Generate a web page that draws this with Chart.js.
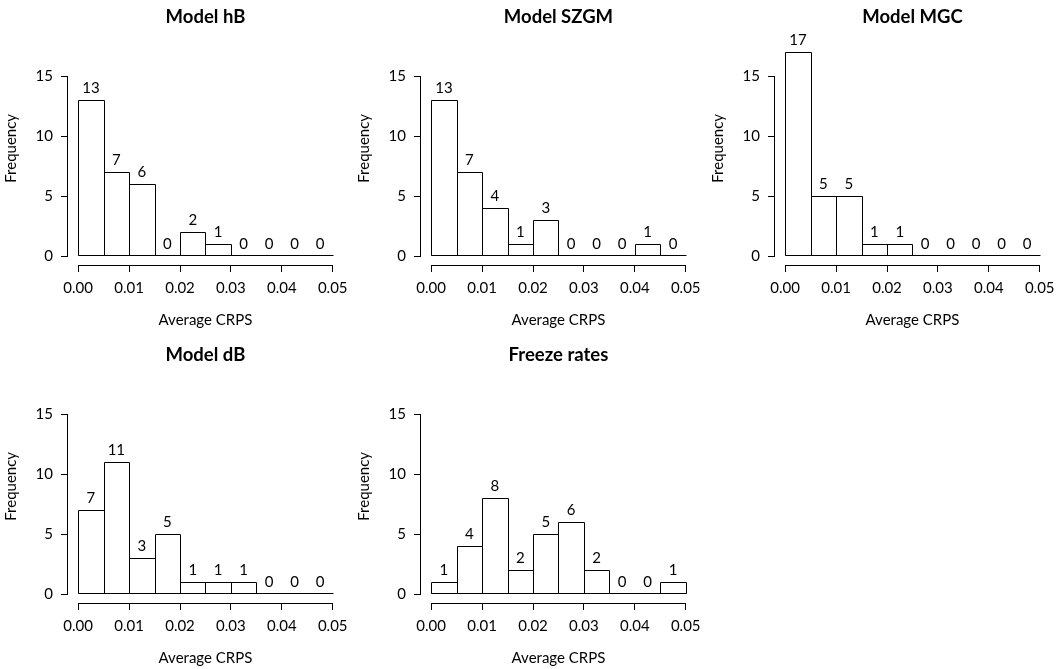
<!DOCTYPE html>
<html>
<head>
<meta charset="utf-8">
<script src="https://cdn.jsdelivr.net/npm/chart.js@4.4.1/dist/chart.umd.min.js"></script>
<style>
  html, body { margin: 0; padding: 0; background: #fff; }
  #wrap { position: relative; width: 1064px; height: 669px; overflow: hidden; }
  canvas { position: absolute; }
</style>
</head>
<body>
<div id="wrap">
  <canvas id="hB" width="355" height="334" style="left:0;top:0"></canvas>
  <canvas id="szgm" width="355" height="334" style="left:353px;top:0"></canvas>
  <canvas id="mgc" width="355" height="334" style="left:707px;top:0"></canvas>
  <canvas id="dB" width="355" height="334" style="left:0;top:338px"></canvas>
  <canvas id="freeze" width="355" height="334" style="left:353px;top:338px"></canvas>
</div>
<script>
// bin mid points (bins are 0.005 wide, 0 to 0.05)
const binMids = [0.0025, 0.0075, 0.0125, 0.0175, 0.0225, 0.0275, 0.0325, 0.0375, 0.0425, 0.0475];
const xTicks = [0, 0.01, 0.02, 0.03, 0.04, 0.05];
const yTicks = [0, 5, 10, 15];

const hBCounts     = [13, 7, 6, 0, 2, 1, 0, 0, 0, 0];
const szgmCounts   = [13, 7, 4, 1, 3, 0, 0, 0, 1, 0];
const mgcCounts    = [17, 5, 5, 1, 1, 0, 0, 0, 0, 0];
const dBCounts     = [7, 11, 3, 5, 1, 1, 1, 0, 0, 0];
const freezeCounts = [1, 4, 8, 2, 5, 6, 2, 0, 0, 1];

Chart.defaults.font.family = 'Lato';
Chart.defaults.font.size = 15;
Chart.defaults.color = '#000';

// R-style outlines (snapped to whole pixels), axis lines and count labels
const rStyle = {
  id: 'rStyle',
  afterDatasetsDraw(chart) {
    const { ctx, chartArea, scales: { x, y } } = chart;
    const pts = chart.data.datasets[0].data;
    const al = p => Math.round(p - 0.5) + 0.5;
    ctx.save();
    ctx.strokeStyle = '#000';
    ctx.lineWidth = 1;
    ctx.beginPath();
    // bars
    chart.getDatasetMeta(0).data.forEach((el, i) => {
      if (!pts[i].y) return;
      const l = Math.round(el.x - el.width / 2), r = Math.round(el.x + el.width / 2);
      const t = Math.round(el.y), b = Math.round(el.base);
      ctx.rect(l + 0.5, t + 0.5, r - l, b - t - 1);
    });
    // baseline under empty bins
    const by = Math.round(y.getPixelForValue(0)) - 0.5;
    ctx.moveTo(Math.round(x.getPixelForValue(xTicks[0])) + 0.5, by);
    ctx.lineTo(Math.round(x.getPixelForValue(xTicks[xTicks.length - 1])) + 0.5, by);
    // y axis
    const ax = Math.round(chartArea.left) - 0.5;
    ctx.moveTo(ax, al(y.getPixelForValue(yTicks[0])) + 0.5);
    ctx.lineTo(ax, al(y.getPixelForValue(yTicks[yTicks.length - 1])) - 0.5);
    // x axis
    const ay = Math.round(chartArea.bottom) + 0.5;
    ctx.moveTo(al(x.getPixelForValue(xTicks[0])) - 0.5, ay);
    ctx.lineTo(al(x.getPixelForValue(xTicks[xTicks.length - 1])) + 0.5, ay);
    ctx.stroke();

    ctx.fillStyle = '#000';
    ctx.font = '15px Lato';
    ctx.textAlign = 'center';
    ctx.textBaseline = 'alphabetic';
    chart.getDatasetMeta(0).data.forEach((el, i) => {
      ctx.fillText(String(pts[i].y), el.x, el.y - 7);
    });
    ctx.restore();
  }
};

function makeHist(id, title, counts) {
  new Chart(document.getElementById(id), {
    type: 'bar',
    data: {
      datasets: [{
        data: counts.map((c, i) => ({ x: binMids[i], y: c })),
        backgroundColor: '#fff',
        borderWidth: 0,
        inflateAmount: 0,
        barPercentage: 1,
        categoryPercentage: 1
      }]
    },
    options: {
      responsive: false,
      animation: false,
      layout: { padding: { left: 0, right: 10, top: 0, bottom: 0 } },
      plugins: {
        legend: { display: false },
        tooltip: { enabled: false },
        title: {
          display: true,
          text: title,
          fullSize: false,
          font: { size: 18.5, weight: 'bold' },
          padding: { top: 5.6, bottom: 3.9 }
        }
      },
      scales: {
        x: {
          type: 'linear',
          min: -0.002,
          max: 0.052,
          offset: false,
          afterBuildTicks: s => { s.ticks = xTicks.map(v => ({ value: v })); },
          afterFit: s => { s.height = 69; },
          ticks: { padding: 7, maxRotation: 0, callback: v => v.toFixed(2) },
          grid: { display: true, offset: false, drawOnChartArea: false, drawTicks: true, tickLength: 7, color: '#000' },
          border: { display: false },
          title: { display: true, text: 'Average CRPS', padding: { top: 0, bottom: 5 } }
        },
        y: {
          min: -0.72,
          max: 18.72,
          afterBuildTicks: s => { s.ticks = yTicks.map(v => ({ value: v })); },
          afterFit: s => { s.width = 68; },
          ticks: { padding: 8 },
          grid: { display: true, drawOnChartArea: false, drawTicks: true, tickLength: 7, color: '#000' },
          border: { display: false },
          title: { display: true, text: 'Frequency', padding: { top: 2.5, bottom: 0 } }
        }
      }
    },
    plugins: [rStyle]
  });
}

makeHist('hB', 'Model hB', hBCounts);
makeHist('szgm', 'Model SZGM', szgmCounts);
makeHist('mgc', 'Model MGC', mgcCounts);
makeHist('dB', 'Model dB', dBCounts);
makeHist('freeze', 'Freeze rates', freezeCounts);
</script>
</body>
</html>
